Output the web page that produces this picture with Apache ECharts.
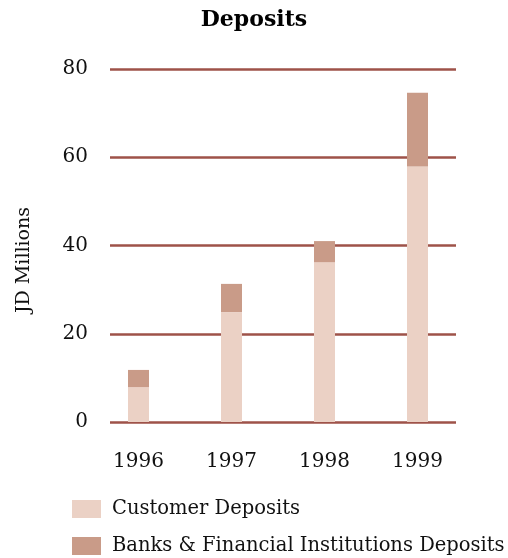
<!DOCTYPE html>
<html><head><meta charset="utf-8">
<script src="https://cdn.jsdelivr.net/npm/echarts@6/dist/echarts.min.js"></script>
<style>html,body{margin:0;padding:0;background:#fff}#c{width:508px;height:558px}</style>
</head><body><div id="c"></div>
<script>
const categories = ['1996', '1997', '1998', '1999'];
const customerDeposits = [7.9, 24.9, 36.2, 57.9];
const bankDeposits = [3.9, 6.4, 4.8, 16.7];
const yTicks = [0, 20, 40, 60, 80];
const seriesNames = ['Customer Deposits', 'Banks & Financial Institutions Deposits'];

const font = 'DejaVu Serif';
const legendCommon = {
  orient: 'vertical', left: 67, itemWidth: 29, itemHeight: 18, icon: 'rect',
  textStyle: {fontFamily: font, fontSize: 19.5, color: '#111', padding: [0, 0, 0, 6]}
};
const chart = echarts.init(document.getElementById('c'));
chart.setOption({
  animation: false,
  backgroundColor: '#fff',
  title: {
    text: 'Deposits', left: 'center', top: 4,
    textStyle: {fontFamily: font, fontWeight: 'bold', fontSize: 22, color: '#000'}
  },
  legend: [
    Object.assign({}, legendCommon, {top: 494, data: [seriesNames[0]]}),
    Object.assign({}, legendCommon, {top: 531, data: [seriesNames[1]]})
  ],
  graphic: [{
    type: 'text', x: 24, y: 260, rotation: Math.PI / 2,
    style: {text: 'JD Millions', fontFamily: font, fontSize: 19, fill: '#111', align: 'center', verticalAlign: 'middle'}
  }],
  grid: [
    {left: 110, right: 52, top: 69, bottom: 136},
    {left: 92, right: 44, top: 69, bottom: 136}
  ],
  xAxis: [
    {gridIndex: 0, type: 'category', data: categories, show: false},
    {gridIndex: 1, type: 'category', data: categories,
     axisLine: {show: false}, axisTick: {show: false}, splitLine: {show: false},
     axisLabel: {margin: 30, fontFamily: font, fontSize: 20, color: '#111'}}
  ],
  yAxis: [
    {gridIndex: 0, type: 'value', min: 0, max: 80, interval: 20,
     axisLine: {show: false}, axisTick: {show: false},
     axisLabel: {margin: 22, fontFamily: font, fontSize: 20, color: '#111',
       formatter: v => yTicks.includes(v) ? String(v) : ''},
     splitLine: {show: true, lineStyle: {color: '#9E5249', width: 2.5}}},
    {gridIndex: 1, type: 'value', min: 0, max: 80, interval: 20, show: false, splitLine: {show: false}}
  ],
  series: [
    {name: seriesNames[0], type: 'bar', xAxisIndex: 1, yAxisIndex: 1, stack: 'd',
     barWidth: 21, data: customerDeposits, itemStyle: {color: '#EBD1C5'}, z: 3},
    {name: seriesNames[1], type: 'bar', xAxisIndex: 1, yAxisIndex: 1, stack: 'd',
     barWidth: 21, data: bankDeposits, itemStyle: {color: '#C99B88'}, z: 3}
  ]
});
</script></body></html>
